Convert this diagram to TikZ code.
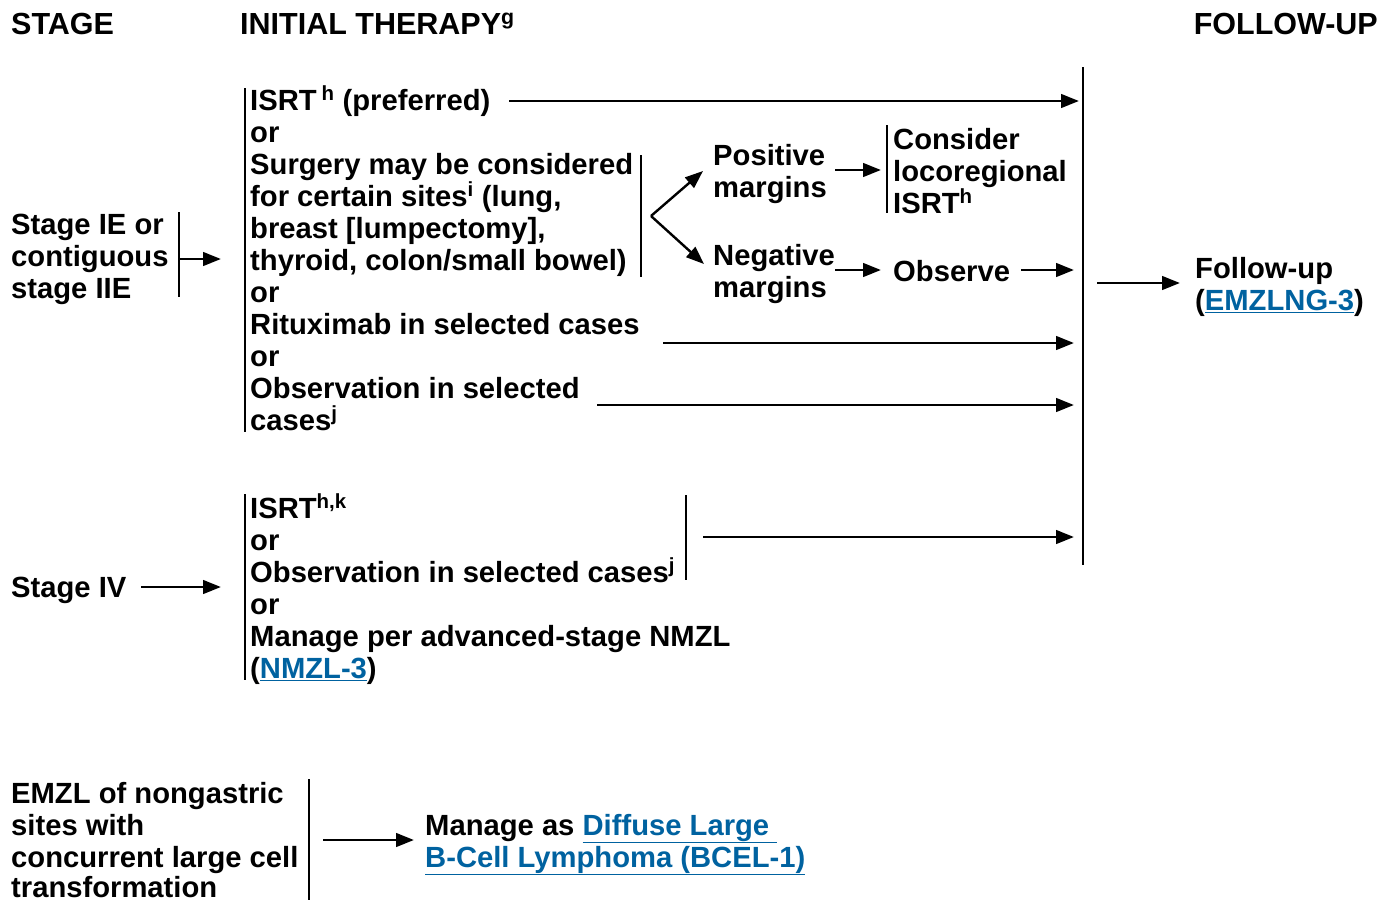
\documentclass[tikz,border=0pt]{standalone}
\usepackage{fontspec}
\setmainfont{Liberation Sans}
\usetikzlibrary{arrows.meta}
\definecolor{linkblue}{RGB}{0,98,160}
\newcommand{\lnk}[1]{\textcolor{linkblue}{\underline{#1}}}
\begin{document}
\begin{tikzpicture}[x=1pt,y=-1pt,
  t/.style={anchor=base west, inner sep=0pt, font=\fontsize{29.2}{32}\selectfont\bfseries},
  hd/.style={t, font=\fontsize{30.5}{32}\selectfont\bfseries},
  bar/.style={line width=2.2pt},
  arr/.style={line width=2.9pt, -{Triangle[length=18pt,width=13.5pt]}}]
\useasboundingbox (0,0) rectangle (1378,900);
% headers
\node[hd] (hstage) at (11,34) {STAGE};
\node[hd] (hinit) at (240,34) {INITIAL THERAPY\textsuperscript{g}};
\node[hd, anchor=base east] (hfol) at (1378,34) {FOLLOW-UP};
% stage IE
\node[t] (s1a) at (11,234) {Stage IE or};
\node[t] (s1b) at (11,266) {contiguous};
\node[t] (s1c) at (11,298) {stage IIE};
\coordinate (b1t) at (179,212); \coordinate (b1b) at (179,297);
\draw[bar] (b1t) -- (b1b);
\coordinate (a1s) at (179,259); \coordinate (a1e) at (221,259);
\draw[arr] (a1s) -- (a1e);
% top therapy block
\node[t] (l1) at (250,110) {ISRT\,\textsuperscript{h} (preferred)};
\node[t] (l2) at (250,142) {or};
\node[t] (l3) at (250,174) {Surgery may be considered};
\node[t] (l4) at (250,206) {for certain sites\textsuperscript{i} (lung,};
\node[t] (l5) at (250,238) {breast [lumpectomy],};
\node[t] (l6) at (250,270) {thyroid, colon/small bowel)};
\node[t] (l7) at (250,302) {or};
\node[t] (l8) at (250,334) {Rituximab in selected cases};
\node[t] (l9) at (250,366) {or};
\node[t] (l10) at (250,398) {Observation in selected};
\node[t] (l11) at (250,430) {cases\textsuperscript{j}};
\coordinate (b2t) at (245,88); \coordinate (b2b) at (245,432);
\draw[bar] (b2t) -- (b2b);
\coordinate (b3t) at (641,155); \coordinate (b3b) at (641,277);
\draw[bar] (b3t) -- (b3b);
% split arrows
\coordinate (v) at (651,216);
\coordinate (vp) at (703,171); \coordinate (vn) at (704,264);
\draw[arr, line width=2.4pt] (v) -- (vp);
\draw[arr, line width=2.4pt] (v) -- (vn);
\node[t] (pm1) at (713,165) {Positive};
\node[t] (pm2) at (713,197) {margins};
\node[t] (nm1) at (713,265) {Negative};
\node[t] (nm2) at (713,297) {margins};
\coordinate (pa1) at (835,170); \coordinate (pa2) at (881,170);
\draw[arr] (pa1) -- (pa2);
\coordinate (b4t) at (887,125); \coordinate (b4b) at (887,213);
\draw[bar] (b4t) -- (b4b);
\node[t] (c1) at (893,149) {Consider};
\node[t] (c2) at (893,181) {locoregional};
\node[t] (c3) at (893,213) {ISRT\textsuperscript{h}};
\coordinate (na1) at (835,270); \coordinate (na2) at (881,270);
\draw[arr] (na1) -- (na2);
\node[t] (obs) at (893,281) {Observe};
\coordinate (oa1) at (1021,270); \coordinate (oa2) at (1074,270);
\draw[arr] (oa1) -- (oa2);
% long arrows
\coordinate (ia1) at (509,101); \coordinate (ia2) at (1079,101);
\draw[arr] (ia1) -- (ia2);
\coordinate (ra1) at (663,343); \coordinate (ra2) at (1074,343);
\draw[arr] (ra1) -- (ra2);
\coordinate (ob1) at (597,405); \coordinate (ob2) at (1074,405);
\draw[arr] (ob1) -- (ob2);
% follow-up bar
\coordinate (b5t) at (1083,67); \coordinate (b5b) at (1083,565);
\draw[bar] (b5t) -- (b5b);
\coordinate (fa1) at (1097,283); \coordinate (fa2) at (1180,283);
\draw[arr] (fa1) -- (fa2);
\node[t] (f1) at (1195,278) {Follow-up};
\node[t] (f2) at (1195,310) {(\lnk{EMZLNG-3})};
% stage IV
\node[t] (s4) at (11,597) {Stage IV};
\coordinate (s4a1) at (141,587); \coordinate (s4a2) at (221,587);
\draw[arr] (s4a1) -- (s4a2);
\node[t] (m1) at (250,518) {ISRT\textsuperscript{h,k}};
\node[t] (m2) at (250,550) {or};
\node[t] (m3) at (250,582) {Observation in selected cases\textsuperscript{j}};
\node[t] (m4) at (250,614) {or};
\node[t] (m5) at (250,646) {Manage per advanced-stage NMZL};
\node[t] (m6) at (250,678) {(\lnk{NMZL-3})};
\coordinate (b6t) at (245,494); \coordinate (b6b) at (245,680);
\draw[bar] (b6t) -- (b6b);
\coordinate (b7t) at (686,495); \coordinate (b7b) at (686,580);
\draw[bar] (b7t) -- (b7b);
\coordinate (m3a1) at (703,537); \coordinate (m3a2) at (1074,537);
\draw[arr] (m3a1) -- (m3a2);
% EMZL transformation
\node[t] (e1) at (11,803) {EMZL of nongastric};
\node[t] (e2) at (11,835) {sites with};
\node[t] (e3) at (11,867) {concurrent large cell};
\node[t] (e4) at (11,897) {transformation};
\coordinate (b8t) at (309,779); \coordinate (b8b) at (309,900);
\draw[bar] (b8t) -- (b8b);
\coordinate (ea1) at (323,840); \coordinate (ea2) at (414,840);
\draw[arr] (ea1) -- (ea2);
\node[t] (d1) at (425,835) {Manage as \lnk{Diffuse Large\ }};
\node[t] (d2) at (425,867) {\lnk{B-Cell Lymphoma (BCEL-1)}};
\end{tikzpicture}
\end{document}
